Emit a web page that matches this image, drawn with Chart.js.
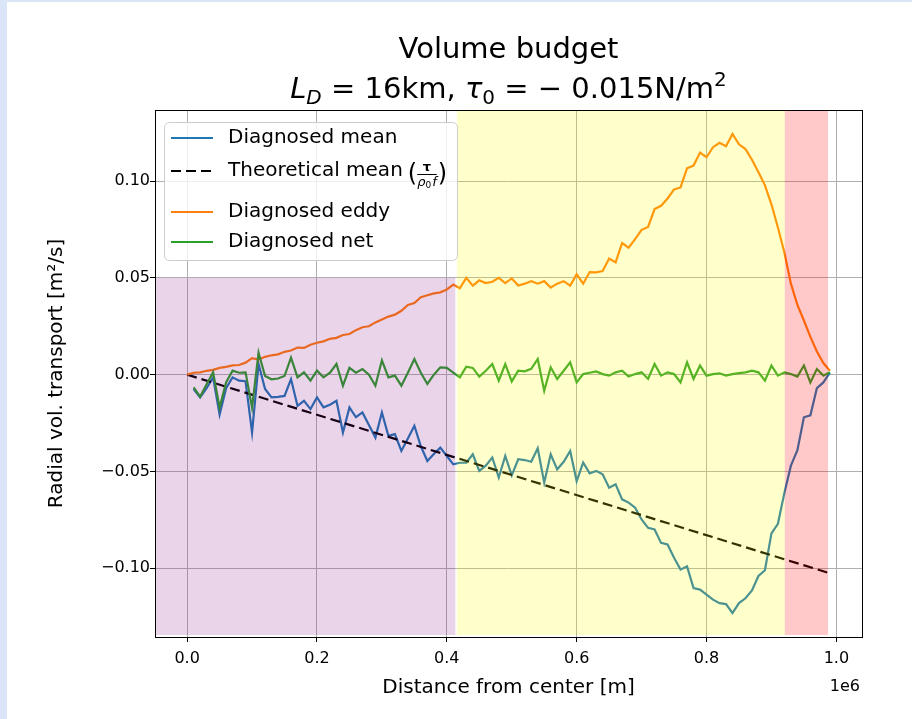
<!DOCTYPE html>
<html>
<head>
<meta charset="utf-8">
<title>Volume budget</title>
<script src="https://cdn.jsdelivr.net/npm/chart.js@4.4.1/dist/chart.umd.min.js"></script>
<style>
  html, body { margin: 0; padding: 0; background: #dae6f8; overflow: hidden; }
  #wrap { position: absolute; left: 7px; top: 2px; width: 905px; height: 717px; background: #fff; }
  canvas { display: block; }
</style>
</head>
<body>
<div id="wrap"><canvas id="budgetChart" width="905" height="717"></canvas></div>
<script>
// distance from center, km
const distanceKm = [
    0, 10, 20, 30, 40, 50, 60, 70, 80, 90,
    100, 110, 120, 130, 140, 150, 160, 170, 180, 190,
    200, 210, 220, 230, 240, 250, 260, 270, 280, 290,
    300, 310, 320, 330, 340, 350, 360, 370, 380, 390,
    400, 410, 420, 430, 440, 450, 460, 470, 480, 490,
    500, 510, 520, 530, 540, 550, 560, 570, 580, 590,
    600, 610, 620, 630, 640, 650, 660, 670, 680, 690,
    700, 710, 720, 730, 740, 750, 760, 770, 780, 790,
    800, 810, 820, 830, 840, 850, 860, 870, 880, 890,
    900, 910, 920, 930, 940, 950, 960, 970, 980, 990
];

const meanTransport = [
    null, -0.0074, -0.0117, -0.0070, -0.0014, -0.0207, -0.0070, -0.0014, -0.0031, -0.0034,
    -0.0299, 0.0055, -0.0074, -0.0117, -0.0115, -0.0110, -0.0023, -0.0161, -0.0135, -0.0178,
    -0.0117, -0.0169, -0.0155, -0.0135, -0.0299, -0.0169, -0.0220, -0.0195, -0.0260, -0.0325,
    -0.0195, -0.0316, -0.0307, -0.0394, -0.0330, -0.0264, -0.0370, -0.0446, -0.0410, -0.0377,
    -0.0420, -0.0463, -0.0455, -0.0454, -0.0411, -0.0497, -0.0470, -0.0428, -0.0532, -0.0420,
    -0.0520, -0.0437, -0.0441, -0.0450, -0.0380, -0.0558, -0.0411, -0.0489, -0.0450, -0.0394,
    -0.0550, -0.0454, -0.0510, -0.0497, -0.0515, -0.0584, -0.0566, -0.0644, -0.0661, -0.0687,
    -0.0748, -0.0791, -0.0800, -0.0869, -0.0877, -0.0946, -0.1007, -0.0990, -0.1102, -0.1110,
    -0.1136, -0.1162, -0.1180, -0.1185, -0.1231, -0.1180, -0.1155, -0.1115, -0.1040, -0.1010,
    -0.0820, -0.0770, -0.0610, -0.0470, -0.0390, -0.0220, -0.0210, -0.0070, -0.0040, 0.0010
];

const eddyTransport = [
    0.0000, 0.0010, 0.0012, 0.0020, 0.0025, 0.0035, 0.0040, 0.0048, 0.0050, 0.0062,
    0.0085, 0.0078, 0.0092, 0.0100, 0.0105, 0.0118, 0.0125, 0.0140, 0.0138, 0.0155,
    0.0165, 0.0172, 0.0185, 0.0190, 0.0205, 0.0210, 0.0230, 0.0245, 0.0250, 0.0270,
    0.0285, 0.0300, 0.0310, 0.0330, 0.0360, 0.0370, 0.0400, 0.0410, 0.0420, 0.0425,
    0.0440, 0.0465, 0.0446, 0.0500, 0.0460, 0.0487, 0.0473, 0.0480, 0.0500, 0.0473,
    0.0497, 0.0460, 0.0470, 0.0483, 0.0470, 0.0483, 0.0450, 0.0470, 0.0483, 0.0460,
    0.0518, 0.0470, 0.0530, 0.0528, 0.0535, 0.0600, 0.0580, 0.0680, 0.0656, 0.0700,
    0.0748, 0.0763, 0.0855, 0.0872, 0.0910, 0.0957, 0.0967, 0.1066, 0.1080, 0.1147,
    0.1123, 0.1175, 0.1198, 0.1180, 0.1243, 0.1190, 0.1165, 0.1110, 0.1045, 0.0978,
    0.0880, 0.0760, 0.0630, 0.0470, 0.0360, 0.0280, 0.0195, 0.0120, 0.0060, 0.0020
];

const netTransport = [
    null, -0.0066, -0.0114, -0.0050, 0.0012, -0.0170, -0.0040, 0.0021, 0.0010, 0.0012,
    -0.0170, 0.0114, -0.0007, -0.0024, -0.0020, -0.0007, 0.0088, -0.0014, 0.0012, -0.0031,
    0.0021, -0.0014, 0.0010, 0.0055, -0.0057, 0.0035, 0.0010, 0.0029, 0.0000, -0.0057,
    0.0074, -0.0014, -0.0005, -0.0057, 0.0010, 0.0081, 0.0010, -0.0048, 0.0000, 0.0038,
    0.0035, 0.0010, -0.0014, 0.0041, 0.0035, -0.0010, 0.0020, 0.0055, -0.0031, 0.0055,
    -0.0035, 0.0021, 0.0017, 0.0030, 0.0081, -0.0083, 0.0038, -0.0022, 0.0020, 0.0064,
    -0.0040, 0.0003, 0.0010, 0.0017, 0.0003, -0.0005, 0.0012, 0.0021, -0.0010, 0.0003,
    0.0012, -0.0022, 0.0055, -0.0005, 0.0012, 0.0003, -0.0040, 0.0064, -0.0022, 0.0047,
    -0.0005, 0.0003, 0.0007, -0.0005, 0.0003, 0.0008, 0.0012, 0.0021, 0.0012, -0.0031,
    0.0047, -0.0005, 0.0012, 0.0003, -0.0010, 0.0047, -0.0040, 0.0029, -0.0005, 0.0012
];

// theoretical mean tau/(rho0 f) is a straight line, end points only
const theoryKm = [0, 990];
const theoryTransport = [0, -0.1026];

const xTickValues = [0, 200000, 400000, 600000, 800000, 1000000];
const yTickValues = [-0.10, -0.05, 0.00, 0.05, 0.10];

// shaded regions (x in m, y in m2/s)
const regionStart = [-49500, 415500, 920500];
const regionEnd = [413100, 920500, 987200];
const regionTop = [0.05, 0.1375, 0.1375];
const regionBottom = [-0.1345, -0.1345, -0.1345];

const FONT = "'DejaVu Sans', 'Liberation Sans', sans-serif";
const meanColor = '#1f77b4';
const eddyColor = '#ff7f0e';
const netColor = '#2ca02c';
const regionColors = ['rgba(128, 0, 128, 0.17)', 'rgba(255, 255, 0, 0.2)', 'rgba(255, 0, 0, 0.21)'];

const toPoints = (xs, ys) => xs.map((d, i) => ({ x: d * 1000, y: ys[i] }));

const drawRun = (ctx, parts, cx, baseline) => {
    let total = 0;
    parts.forEach(p => {
        ctx.font = p.font;
        p.w = ctx.measureText(p.text).width;
        total += p.w;
    });
    let x = cx - total / 2;
    ctx.textAlign = 'left';
    ctx.textBaseline = 'alphabetic';
    parts.forEach(p => {
        ctx.font = p.font;
        ctx.fillText(p.text, x, baseline + (p.dy || 0));
        x += p.w;
    });
};

const drawTitle = (chart) => {
    const { ctx, chartArea: a } = chart;
    const cx = (a.left + a.right) / 2;
    ctx.save();
    ctx.fillStyle = '#000';
    drawRun(ctx, [{ text: 'Volume budget', font: `29px ${FONT}` }], cx, 56);
    drawRun(ctx, [
        { text: 'L', font: `italic 29px ${FONT}` },
        { text: 'D', font: `italic 20px ${FONT}`, dy: 6 },
        { text: ' = 16km, ', font: `29px ${FONT}` },
        { text: '\u03c4', font: `italic 29px ${FONT}` },
        { text: '0', font: `20px ${FONT}`, dy: 6 },
        { text: ' = \u2212 0.015N/m', font: `29px ${FONT}` },
        { text: '2', font: `20px ${FONT}`, dy: -12 }
    ], cx, 96);
    ctx.restore();
};

const drawLegend = (chart) => {
    const { ctx, chartArea: a } = chart;
    const bx = a.left + 9, by = a.top + 12, bw = 293, bh = 138;
    ctx.save();
    ctx.beginPath();
    ctx.roundRect(bx + 0.5, by + 0.5, bw, bh, 5);
    ctx.fillStyle = 'rgba(255, 255, 255, 0.8)';
    ctx.fill();
    ctx.strokeStyle = '#cccccc';
    ctx.lineWidth = 1;
    ctx.stroke();

    const rows = [
        { label: 'Diagnosed mean', color: meanColor, dash: [], dy: 28 },
        { label: 'Theoretical mean', color: '#000', dash: [10, 5], dy: 61, frac: true },
        { label: 'Diagnosed eddy', color: eddyColor, dash: [], dy: 102 },
        { label: 'Diagnosed net', color: netColor, dash: [], dy: 132 }
    ];
    const hx0 = a.left + 16, hx1 = a.left + 58, tx = a.left + 73;
    rows.forEach(r => {
        const y = a.top + r.dy;
        ctx.beginPath();
        ctx.setLineDash(r.dash);
        ctx.strokeStyle = r.color;
        ctx.lineWidth = 2.2;
        ctx.moveTo(hx0, y);
        ctx.lineTo(hx1, y);
        ctx.stroke();
        ctx.setLineDash([]);
        ctx.fillStyle = '#000';
        ctx.font = `20px ${FONT}`;
        ctx.textAlign = 'left';
        ctx.textBaseline = 'middle';
        ctx.fillText(r.label, tx, y);
        if (r.frac) {
            let x = tx + ctx.measureText(r.label).width + 5;
            ctx.font = `24px ${FONT}`;
            ctx.fillText('(', x, y + 4);
            x += ctx.measureText('(').width;
            // denominator rho_0 f
            ctx.font = `italic 13px ${FONT}`;
            const wRho = ctx.measureText('\u03c1').width;
            ctx.font = `9px ${FONT}`;
            const wSub = ctx.measureText('0').width;
            ctx.font = `italic 13px ${FONT}`;
            const wF = ctx.measureText('f').width;
            const wDen = wRho + wSub + wF + 1;
            ctx.textBaseline = 'alphabetic';
            ctx.fillText('\u03c1', x, y + 15);
            ctx.font = `9px ${FONT}`;
            ctx.fillText('0', x + wRho, y + 17);
            ctx.font = `italic 13px ${FONT}`;
            ctx.fillText('f', x + wRho + wSub + 1, y + 15);
            ctx.beginPath();
            ctx.strokeStyle = '#000';
            ctx.lineWidth = 1;
            ctx.moveTo(x, y + 3.5);
            ctx.lineTo(x + wDen, y + 3.5);
            ctx.stroke();
            ctx.font = `bold 13px ${FONT}`;
            ctx.textAlign = 'center';
            ctx.fillText('\u03c4', x + wDen / 2, y);
            ctx.textAlign = 'left';
            ctx.textBaseline = 'middle';
            ctx.font = `24px ${FONT}`;
            ctx.fillText(')', x + wDen + 1, y + 4);
        }
    });
    ctx.restore();
};

const overlayPlugin = {
    id: 'overlay',
    afterDatasetsDraw(chart) {
        const { ctx, chartArea: a, scales: { x, y } } = chart;
        ctx.save();
        ctx.beginPath();
        ctx.rect(a.left, a.top, a.width, a.height);
        ctx.clip();
        regionStart.forEach((start, i) => {
            const x0 = x.getPixelForValue(start);
            const x1 = x.getPixelForValue(regionEnd[i]);
            const y0 = y.getPixelForValue(regionTop[i]);
            const y1 = y.getPixelForValue(regionBottom[i]);
            ctx.fillStyle = regionColors[i];
            ctx.fillRect(x0, y0, x1 - x0, y1 - y0);
        });
        ctx.restore();
    },
    afterDraw(chart) {
        const { ctx, chartArea: a } = chart;
        drawLegend(chart);
        ctx.save();
        ctx.strokeStyle = '#000';
        ctx.lineWidth = 1;
        ctx.strokeRect(Math.round(a.left) + 0.5, Math.round(a.top) + 0.5,
            Math.round(a.width), Math.round(a.height));
        ctx.fillStyle = '#000';
        ctx.font = `16px ${FONT}`;
        ctx.textAlign = 'right';
        ctx.textBaseline = 'middle';
        ctx.fillText('1e6', a.right - 2, 685);
        ctx.restore();
        drawTitle(chart);
    }
};

const ctx = document.getElementById('budgetChart').getContext('2d');
new Chart(ctx, {
    type: 'line',
    data: {
        datasets: [
            {
                label: 'Diagnosed mean',
                data: toPoints(distanceKm, meanTransport),
                borderColor: meanColor,
                borderWidth: 2.2,
                order: 3
            },
            {
                label: 'Theoretical mean',
                data: toPoints(theoryKm, theoryTransport),
                borderColor: '#000',
                borderWidth: 2.2,
                borderDash: [10, 5],
                order: 2
            },
            {
                label: 'Diagnosed eddy',
                data: toPoints(distanceKm, eddyTransport),
                borderColor: eddyColor,
                borderWidth: 2.2,
                order: 1
            },
            {
                label: 'Diagnosed net',
                data: toPoints(distanceKm, netTransport),
                borderColor: netColor,
                borderWidth: 2.2,
                order: 0
            }
        ]
    },
    options: {
        responsive: false,
        animation: false,
        devicePixelRatio: 1,
        events: [],
        elements: {
            point: { radius: 0 },
            line: { tension: 0, fill: false }
        },
        layout: { padding: { top: 108, right: 50, left: 0, bottom: 0 } },
        plugins: {
            legend: { display: false },
            title: { display: false },
            tooltip: { enabled: false }
        },
        scales: {
            x: {
                type: 'linear',
                min: -49500,
                max: 1039500,
                afterBuildTicks: s => { s.ticks = xTickValues.map(v => ({ value: v })); },
                afterFit: s => { s.height = 82; },
                border: { display: false },
                grid: { color: '#b0b0b0', lineWidth: 1, tickColor: '#000', tickLength: 5, tickWidth: 1 },
                ticks: {
                    color: '#000',
                    font: { family: FONT, size: 16 },
                    padding: 7,
                    maxRotation: 0,
                    autoSkip: false,
                    callback: v => (v / 1e6).toFixed(1)
                },
                title: {
                    display: true,
                    text: 'Distance from center [m]',
                    color: '#000',
                    font: { family: FONT, size: 20 },
                    padding: { top: 0, bottom: 19 }
                }
            },
            y: {
                min: -0.1355,
                max: 0.1367,
                afterBuildTicks: s => { s.ticks = yTickValues.map(v => ({ value: v })); },
                afterFit: s => { s.width = 148; },
                border: { display: false },
                grid: { color: '#b0b0b0', lineWidth: 1, tickColor: '#000', tickLength: 5, tickWidth: 1 },
                ticks: {
                    color: '#000',
                    font: { family: FONT, size: 16 },
                    padding: 0,
                    callback: v => (v < 0 ? '\u2212' : '') + Math.abs(v).toFixed(2)
                },
                title: {
                    display: true,
                    text: 'Radial vol. transport [m\u00b2/s]',
                    color: '#000',
                    font: { family: FONT, size: 20 },
                    padding: { top: 38, bottom: 0 }
                }
            }
        }
    },
    plugins: [overlayPlugin]
});
</script>
</body>
</html>
